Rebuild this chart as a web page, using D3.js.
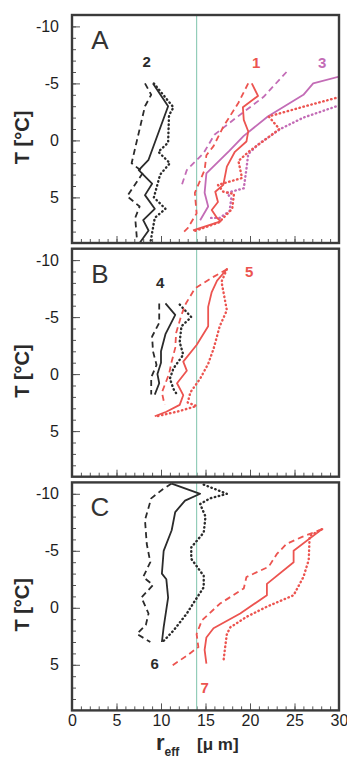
<!DOCTYPE html>
<html>
<head>
<meta charset="utf-8">
<script src="https://cdn.jsdelivr.net/npm/d3@7"></script>
<style>
body { margin: 0; background: #fff; }
svg { display: block; font-family: "Liberation Sans", Arial, sans-serif; }
</style>
</head>
<body>
<div id="chart-area"></div>
<script>
// values: [r_eff (um), T (degC)]

// panel A
const a1Solid = [[20.2,-5],[20.9,-3.9],[19.2,-2.9],[19.3,-1.8],[19.8,-0.8],[19.6,0.1],[18.3,1.0],[17.4,2.3],[17.0,3.9],[16.1,4.5],[16.4,5.4],[15.7,6.1],[16.3,6.8],[16.7,7.1],[13.6,7.9]]
const a1Dash = [[19.8,-5],[18.7,-3.3],[17.0,-1.2],[15.9,0.5],[15.1,1.3],[14.9,2.6],[13.8,4.6],[14.0,6.4],[13.0,7.7],[12.6,8.0]]
const a1Dot = [[30.5,-3.9],[26.2,-3.0],[22.1,-2.1],[23.3,-1.0],[21.6,0.0],[20.0,0.9],[18.7,1.8],[19.1,3.3],[16.4,3.9],[17.0,4.5],[18.2,4.7],[18.0,6.0],[16.5,7.2],[13.6,8.0]]
const a2Solid = [[9.1,-5],[10.8,-3],[8.6,1.7],[7.5,2.6],[9.0,3.8],[8.2,4.8],[9.3,6.0],[8.0,7.0],[8.6,7.9],[7.6,9.0]]
const a2Dash = [[8.2,-5],[8.9,-4],[8.2,-3],[7.3,0],[6.7,2],[8.0,2.8],[6.2,4.9],[7.6,5.8],[7.1,6.8],[7.3,8.7]]
const a2Dot = [[9.2,-5],[11.4,-2.9],[10.9,-2.2],[10.8,0.2],[9.7,1.0],[11.0,2.0],[9.9,3.0],[9.2,5.0],[10.5,6.0],[9.3,6.8],[8.8,9]]
const a3Solid = [[30.5,-5.7],[27.1,-5.0],[26.0,-4.0],[22.0,-2.1],[19.3,-0.4],[17.7,0.9],[15.1,2.9],[14.9,4.6],[15.3,5.8],[14.4,7.0]]
const a3Dash = [[24.1,-6.0],[21.5,-3.8],[18.3,-1.9],[16.0,-0.5],[14.8,1.1],[12.9,2.6],[12.3,4.0]]
const a3Dot = [[30.5,-3.2],[26.0,-2.0],[23.4,-1.0],[21.0,0.3],[19.8,1.2],[19.6,2.5],[19.3,4.2],[17.4,4.6],[17.9,5.1],[17.7,6.2],[16.6,6.8],[15.3,6.8]]

// panel B
const b4Solid = [[10.5,-6.2],[11.6,-5.2],[10.5,-3.5],[10.0,-2.0],[10.0,-1.0],[9.6,0.0],[9.8,0.8],[9.3,1.8]]
const b4Dash = [[9.8,-6.2],[9.8,-4.5],[9.0,-3.3],[9.1,-2.0],[9.5,-0.8],[8.9,0.3],[8.9,1.8]]
const b4Dot = [[12.1,-6.1],[13.4,-5.0],[12.3,-4.2],[12.1,-2.8],[12.5,-1.7],[11.4,-0.5],[11.0,0.4],[11.4,1.3],[11.8,1.8]]
const b5Solid = [[17.4,-9.2],[16.3,-8.2],[15.7,-7.2],[15.3,-5.9],[15.3,-4.2],[14.0,-2.55],[12.5,-1.1],[12.9,-0.3],[11.8,0.8],[12.5,1.85],[12.1,2.7],[10.6,3.3],[9.3,3.7]]
const b5Dash = [[17.4,-9.2],[15.6,-8.4],[13.8,-7.5],[12.8,-6.2],[12.3,-5.2],[11.7,-3.6],[11.6,-2.3],[11.2,-1.1],[10.9,0.0],[10.1,1.6],[10.4,2.7]]
const b5Dot = [[17.4,-9.2],[16.8,-8.1],[17.4,-5.6],[16.6,-4.2],[15.9,-2.2],[15.3,-0.9],[14.4,0.4],[13.3,1.6],[13.0,2.5],[14.0,2.8],[11.8,3.3],[9.5,3.7]]

// panel C
const c6Solid = [[11.2,-10.9],[14.4,-10.0],[12.7,-9.4],[11.6,-8.4],[11.2,-6.8],[10.3,-5.0],[10.1,-3.0],[10.6,-2.5],[10.8,-0.9],[10.3,1.7],[10.1,3.0]]
const c6Dash = [[11.2,-10.9],[10.2,-10.4],[8.9,-9.6],[8.2,-7.7],[8.4,-5.6],[8.8,-4.0],[8.0,-2.7],[9.1,-2.0],[7.8,-0.9],[8.6,0.5],[8.3,1.5],[7.3,2.3],[8.8,3.0]]
const c6Dot = [[14.8,-10.8],[17.4,-10.0],[15.5,-9.6],[14.4,-9.1],[15.0,-8.0],[14.8,-6.6],[13.4,-5.3],[13.4,-4.3],[14.8,-2.8],[14.8,-1.8],[13.8,-0.6],[12.9,0.5],[11.4,2.0],[10.3,2.9]]
const c7Solid = [[28.1,-6.9],[24.9,-5.0],[24.9,-4.0],[21.9,-2.1],[21.9,-1.1],[18.9,0.5],[15.9,1.8],[15.1,2.6],[14.9,3.7],[15.1,4.9]]
const c7Dash = [[28.1,-6.9],[25.8,-6.2],[24.1,-5.6],[23.0,-4.7],[22.1,-3.6],[19.6,-2.7],[19.3,-1.7],[16.6,-0.35],[14.6,1.1],[14.0,2.3],[14.2,3.45],[12.9,4.2],[11.2,5.1]]
const c7Dot = [[28.1,-6.9],[26.7,-6.3],[26.6,-4.2],[26.0,-2.7],[24.9,-1.1],[21.9,-0.1],[19.6,0.8],[17.8,1.7],[17.4,2.3],[17.2,3.5],[17.0,4.8]]

const X_TICKS = [0, 5, 10, 15, 20, 25, 30]
const Y_TICKS = [-10, -5, 0, 5]
const X_MINOR = d3.range(1, 30)
const Y_MINOR = d3.range(-10, 9)
const R_THRESHOLD = 14

const BLACK = '#2b2b2b'
const RED = '#ec5450'
const PURPLE = '#c36cb6'
const DASH = { solid: null, dash: '6,4', dot: '0.5,3.6' }

const panels = [
	{ letter: 'A', curves: [
		[a2Solid, BLACK, 'solid'], [a2Dash, BLACK, 'dash'], [a2Dot, BLACK, 'dot'],
		[a3Dash, PURPLE, 'dash'], [a3Dot, PURPLE, 'dot'], [a3Solid, PURPLE, 'solid'],
		[a1Dash, RED, 'dash'], [a1Dot, RED, 'dot'], [a1Solid, RED, 'solid']],
	  nums: [['2', 8.4, -6.9, BLACK], ['1', 20.7, -6.8, RED], ['3', 28.1, -6.8, PURPLE]] },
	{ letter: 'B', curves: [
		[b4Solid, BLACK, 'solid'], [b4Dash, BLACK, 'dash'], [b4Dot, BLACK, 'dot'],
		[b5Dash, RED, 'dash'], [b5Dot, RED, 'dot'], [b5Solid, RED, 'solid']],
	  nums: [['4', 9.9, -8.0, BLACK], ['5', 19.9, -9.0, RED]] },
	{ letter: 'C', curves: [
		[c6Solid, BLACK, 'solid'], [c6Dash, BLACK, 'dash'], [c6Dot, BLACK, 'dot'],
		[c7Dash, RED, 'dash'], [c7Dot, RED, 'dot'], [c7Solid, RED, 'solid']],
	  nums: [['6', 9.3, 4.9, BLACK], ['7', 14.9, 7.0, RED]] }
]

const MARGIN = { LEFT: 72, TOP: 15 }
const WIDTH = 267
const PANEL_H = 228
const GAP = 5.7

const x = d3.scaleLinear().domain([0, 30]).range([0, WIDTH])
const y = d3.scaleLinear().domain([-11, 9]).range([0, PANEL_H])

const line = d3.line()
	.x(d => x(d[0]))
	.y(d => y(d[1]))

const svg = d3.select('#chart-area')
	.append('svg')
	.attr('width', 347)
	.attr('height', 767)

function styleAxis(sel) {
	sel.select('.domain').remove()
	sel.selectAll('.tick line').attr('stroke', '#555').attr('stroke-width', 1)
	sel.selectAll('.tick text')
		.attr('fill', '#1e1e1e')
		.style('font-size', '16px')
		.style('font-family', '"Liberation Sans", Arial, sans-serif')
}

panels.forEach((p, i) => {
	const g = svg.append('g')
		.attr('transform', `translate(${MARGIN.LEFT}, ${MARGIN.TOP + i * (PANEL_H + GAP)})`)

	g.append('clipPath').attr('id', 'clip' + i)
		.append('rect').attr('width', WIDTH).attr('height', PANEL_H)

	// ticks point inward
	g.append('g').call(d3.axisLeft(y).tickValues(Y_MINOR).tickSize(-4).tickFormat('')).call(styleAxis)
	g.append('g').call(d3.axisLeft(y).tickValues(Y_TICKS).tickSize(-8).tickPadding(13).tickFormat(d => String(d))).call(styleAxis)

	g.append('g').attr('transform', `translate(0, ${PANEL_H})`)
		.call(d3.axisBottom(x).tickValues(X_MINOR).tickSize(-4).tickFormat(''))
		.call(styleAxis)
	g.append('g').attr('transform', `translate(0, ${PANEL_H})`)
		.call(d3.axisBottom(x).tickValues(X_TICKS).tickSize(-7).tickPadding(4).tickFormat(i === 2 ? d => String(d) : ''))
		.call(styleAxis)

	g.append('line')
		.attr('x1', x(R_THRESHOLD)).attr('x2', x(R_THRESHOLD))
		.attr('y1', 0).attr('y2', PANEL_H)
		.attr('stroke', '#93cdb9').attr('stroke-width', 1.2)

	const plot = g.append('g').attr('clip-path', `url(#clip${i})`)
	plot.selectAll('path.curve')
		.data(p.curves)
		.enter()
		.append('path')
		.attr('class', 'curve')
		.attr('d', d => line(d[0]))
		.attr('fill', 'none')
		.attr('stroke', d => d[1])
		.attr('stroke-width', d => d[2] === 'dot' ? 2.4 : 1.8)
		.attr('stroke-dasharray', d => DASH[d[2]])
		.attr('stroke-linecap', d => d[2] === 'dot' ? 'round' : 'butt')
		.attr('stroke-linejoin', 'round')

	g.append('rect')
		.attr('width', WIDTH).attr('height', PANEL_H)
		.attr('fill', 'none').attr('stroke', '#3a3a3a').attr('stroke-width', 2.4)

	g.append('text')
		.attr('x', 28).attr('y', 25)
		.attr('text-anchor', 'middle').attr('dominant-baseline', 'central')
		.attr('fill', '#333')
		.style('font-size', '26px')
		.text(p.letter)

	g.selectAll('text.num')
		.data(p.nums)
		.enter()
		.append('text')
		.attr('class', 'num')
		.attr('x', d => x(d[1])).attr('y', d => y(d[2]))
		.attr('text-anchor', 'middle').attr('dominant-baseline', 'central')
		.attr('fill', d => d[3])
		.style('font-size', '15px').style('font-weight', 'bold')
		.text(d => d[0])

	// y axis title
	g.append('text')
		.attr('transform', `translate(-50, ${y(0) - 3}) rotate(-90)`)
		.attr('text-anchor', 'middle').attr('dominant-baseline', 'central')
		.attr('fill', '#2a2a2a')
		.style('font-size', '20px').style('font-weight', 'bold')
		.text('T [°C]')
})

// x axis title
const xt = svg.append('text')
	.attr('x', 156).attr('y', 750)
	.attr('fill', '#2a2a2a')
	.style('font-weight', 'bold')
xt.append('tspan').style('font-size', '22px').text('r')
xt.append('tspan').attr('dy', 6).style('font-size', '12px').text('eff')
xt.append('tspan').attr('x', 197).attr('dy', -6).style('font-size', '17px').text('[μ m]')
</script>
</body>
</html>
